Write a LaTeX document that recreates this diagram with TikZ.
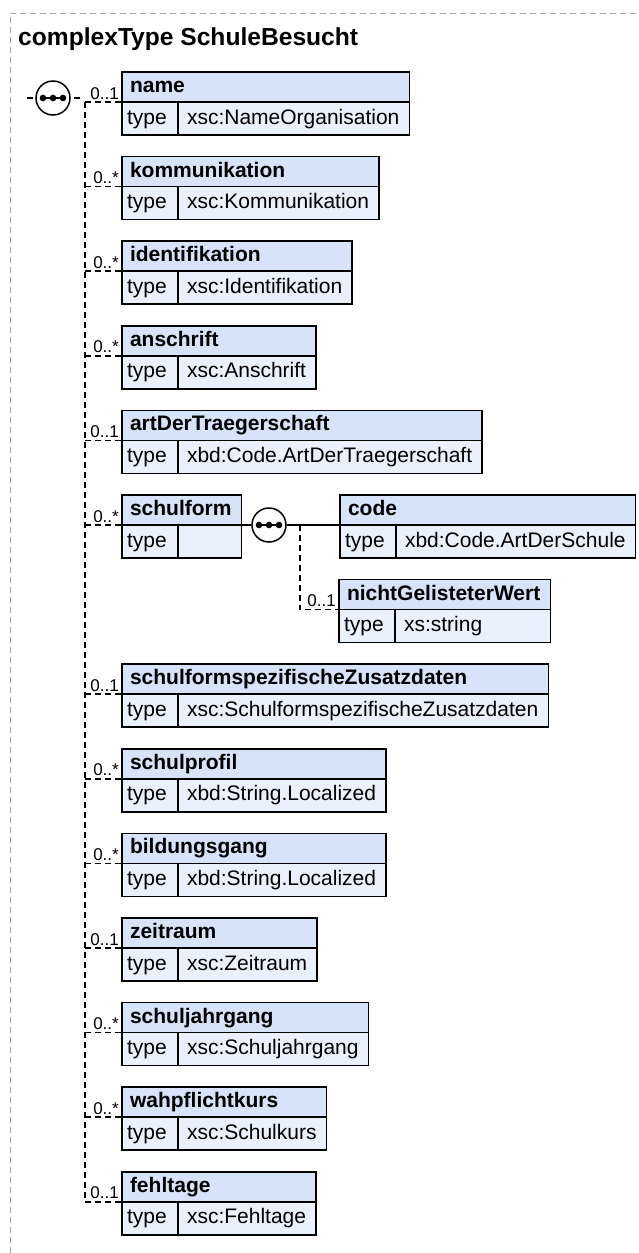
\documentclass[tikz,border=0pt]{standalone}
\usepackage{fontspec}
\setmainfont{Liberation Sans}
\usetikzlibrary{calc}
\definecolor{hdrfill}{RGB}{214,227,249}
\definecolor{rowfill}{RGB}{233,241,252}
\definecolor{framegray}{RGB}{165,165,165}
\newlength\elwa \newlength\elwb \newlength\elwc \newlength\elwd
\newcommand\elhf{\fontsize{21}{25}\selectfont\bfseries}
\newcommand\eltf{\fontsize{21}{25}\selectfont}
\tikzset{
  cellbase/.style={draw=black, line width=1.5pt, anchor=north west, inner ysep=0pt,
    text height=15pt, text depth=4pt, align=left, outer sep=0pt},
  hdr/.style={cellbase, fill=hdrfill, inner xsep=8pt, minimum height=30pt, font=\elhf},
  tcell/.style={cellbase, fill=rowfill, inner xsep=5pt, minimum height=33pt, text width=46pt, font=\eltf},
  vcell/.style={cellbase, fill=rowfill, inner xsep=9pt, minimum height=33pt, font=\eltf},
  conn/.style={line width=1.5pt, dash pattern=on 6pt off 4pt},
  solidconn/.style={line width=1.5pt},
  card/.style={font=\fontsize{17}{20}\selectfont, inner sep=0pt, anchor=base east},
  framestyle/.style={draw=framegray, line width=1pt, dash pattern=on 6pt off 4pt},
  titlestyle/.style={font=\fontsize{24.6}{29}\selectfont\bfseries, inner sep=0pt, anchor=base west},
  seqsym/.style={circle, draw=black, line width=1.5pt, fill=white, minimum size=34pt, inner sep=0pt},
  seqbar/.style={line width=2pt},
}
\newcommand\elbox[4]{%
  \pgfinterruptpicture
    \settowidth\elwa{\elhf #3}\global\elwa=\elwa
    \settowidth\elwb{\eltf #4}\global\elwb=\elwb
  \endpgfinterruptpicture
  \addtolength\elwa{18pt}%
  \addtolength\elwb{75pt}%
  \ifdim\elwa<\elwb \elwa=\elwb\fi
  \setlength\elwc{\elwa}\addtolength\elwc{-16pt}%
  \setlength\elwd{\elwa}\addtolength\elwd{-74pt}%
  \node[hdr, text width=\elwc] (#1) at #2 {#3};
  \node[tcell] (#1-t) at (#1.south west) {type};
  \node[vcell, text width=\elwd] (#1-v) at (#1-t.north east) {#4};
}
\newcommand\elcard[2]{%
  \node[card] (#1-c) at ([shift={(-3pt,3pt)}]#1.south west) {#2};
}
\newcommand\seqdots[1]{%
  \draw[seqbar] ([xshift=-10pt]#1.center) -- ([xshift=10pt]#1.center);
  \fill ([xshift=-10pt]#1.center) circle (3.3pt);
  \fill (#1.center) circle (3.3pt);
  \fill ([xshift=10pt]#1.center) circle (3.3pt);
}
\begin{document}
\begin{tikzpicture}[x=1pt,y=-1pt]
\useasboundingbox (0,0) rectangle (638,1253);
\coordinate (frA) at (10,1253);
\coordinate (frB) at (10,13);
\coordinate (frC) at (638,13);
\draw[framestyle] (frA) -- (frB) -- (frC);
\node[titlestyle] (title) at (18,45) {complexType SchuleBesucht};

% main sequence
\node[seqsym] (seq1) at (53,98) {};
\seqdots{seq1}
\coordinate (inL) at (27,98);
\coordinate (outR) at (80,98);
\draw[conn] (inL) -- (seq1.west);
\draw[conn] (outR) -- (seq1.east);

% elements
\elbox{eName}{(122,72)}{name}{xsc:NameOrganisation}
\elbox{eKomm}{(122,156.6)}{kommunikation}{xsc:Kommunikation}
\elbox{eIdent}{(122,241.2)}{identifikation}{xsc:Identifikation}
\elbox{eAnschr}{(122,325.8)}{anschrift}{xsc:Anschrift}
\elbox{eArt}{(122,410.4)}{artDerTraegerschaft}{xbd:Code.ArtDerTraegerschaft}
\elbox{eSchulform}{(122,495)}{schulform}{}
\elbox{eCode}{(340,495)}{code}{xbd:Code.ArtDerSchule}
\elbox{eNicht}{(339,579.6)}{nichtGelisteterWert}{xs:string}
\elbox{eSpez}{(122,664.2)}{schulformspezifischeZusatzdaten}{xsc:SchulformspezifischeZusatzdaten}
\elbox{eProfil}{(122,748.8)}{schulprofil}{xbd:String.Localized}
\elbox{eBild}{(122,833.4)}{bildungsgang}{xbd:String.Localized}
\elbox{eZeit}{(122,918)}{zeitraum}{xsc:Zeitraum}
\elbox{eJahr}{(122,1002.6)}{schuljahrgang}{xsc:Schuljahrgang}
\elbox{eWahl}{(122,1087.2)}{wahpflichtkurs}{xsc:Schulkurs}
\elbox{eFehl}{(122,1171.8)}{fehltage}{xsc:Fehltage}

% spine
\coordinate (spTop) at (85,102);
\draw[conn] (spTop) -- (spTop |- eFehl.south west);
\foreach \n in {eName,eKomm,eIdent,eAnschr,eArt,eSchulform,eSpez,eProfil,eBild,eZeit,eJahr,eWahl,eFehl}
  \draw[conn] (\n.south west -| spTop) -- (\n.south west);

\elcard{eName}{0..1}
\elcard{eKomm}{0..*}
\elcard{eIdent}{0..*}
\elcard{eAnschr}{0..*}
\elcard{eArt}{0..1}
\elcard{eSchulform}{0..*}
\elcard{eSpez}{0..1}
\elcard{eProfil}{0..*}
\elcard{eBild}{0..*}
\elcard{eZeit}{0..1}
\elcard{eJahr}{0..*}
\elcard{eWahl}{0..*}
\elcard{eFehl}{0..1}

% schulform sequence
\node[seqsym] (seq2) at (269,525) {};
\seqdots{seq2}
\draw[solidconn] (eSchulform.south east) -- (seq2.west);
\draw[solidconn] (seq2.east) -- (eCode.south west);
\coordinate (brN) at (300,525);
\draw[conn] (brN) |- (eNicht.south west);
\elcard{eNicht}{0..1}
\end{tikzpicture}
\end{document}
